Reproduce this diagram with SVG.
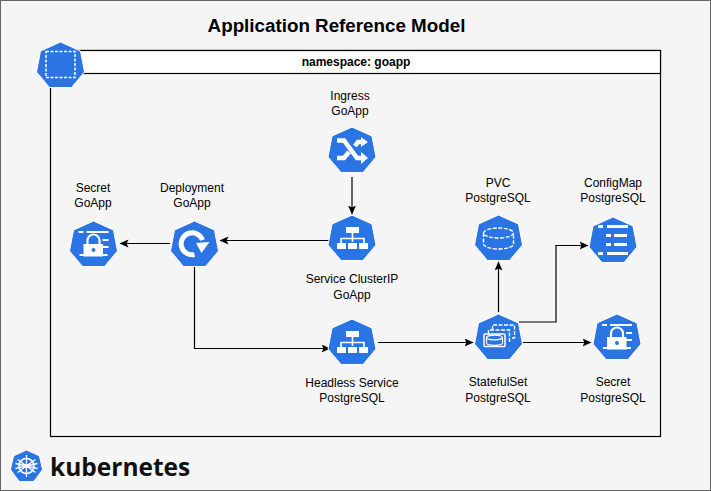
<svg xmlns="http://www.w3.org/2000/svg" width="711" height="491" viewBox="0 0 711 491">
<style>
.t{font-family:"Liberation Sans",Arial,sans-serif;font-size:12px;fill:#000;text-anchor:middle}
.c{fill:none;stroke:#000;stroke-width:1.2}
.hep{fill:#2b74e3;stroke:#fff;stroke-width:1}
.w{fill:#fff;stroke:none}
.wl{fill:none;stroke:#fff;stroke-width:1.6}
.wd{fill:none;stroke:#fff;stroke-width:1.4;stroke-dasharray:4 1.5}
</style>
<defs>
<marker id="a" markerWidth="10" markerHeight="10" refX="8.5" refY="4" orient="auto" markerUnits="userSpaceOnUse"><path d="M0,0L9,4L0,8L2,4Z" fill="#000"/></marker>
<path id="h" class="hep" d="M0,-23L20,-14L24,7L11,22.500L-11,22.500L-24,7L-20,-14Z"/>
<g id="svc"><use href="#h"/><rect class="w" x="-6" y="-11" width="13" height="6"/><path class="wl" d="M0.500,-5V4M-11,6V0.500H12V6"/><rect class="w" x="-15" y="5" width="9" height="6"/><rect class="w" x="-4" y="5" width="9" height="6"/><rect class="w" x="7" y="5" width="9" height="6"/></g>
<g id="sec"><use href="#h"/>
<path class="w" d="M-15,-13h5v2h-5zM-7,-13h22v2h-22zM9,-5h6v2h-6zM9,2h6v2h-6zM8,10h6v2h-6zM-14,10h5v2h-5z"/><rect class="w" x="-10" y="0" width="19.500" height="12.500"/><path fill="none" stroke="#fff" stroke-width="2.200" d="M-6,0V-3.500A6,6 0 0 1 6,-3.500V0"/><circle cx="0" cy="6" r="2" fill="#2b74e3"/></g>
</defs>
<rect x="0.500" y="0.500" width="710" height="490" fill="#f5f5f5" stroke="#666"/>
<text x="336.500" y="32" style="font-family:'Liberation Sans',Arial,sans-serif;font-size:18.800px;font-weight:700;text-anchor:middle">Application Reference Model</text>

<g id="namespace">
<rect x="50.500" y="50.500" width="610" height="386" fill="none" stroke="#000" stroke-width="1.200"/>
<rect x="50.500" y="50.500" width="610" height="23" fill="#fff" stroke="#000" stroke-width="1.200"/>
<text class="t" x="356" y="66" style="font-weight:700">namespace: goapp</text>
<g transform="translate(60.500,65)"><use href="#h"/><rect x="-14.500" y="-13.500" width="29" height="26" fill="none" stroke="#fff" stroke-width="1.500" stroke-dasharray="3 1.500"/></g>
</g>

<g id="connectors">
<path class="c" marker-end="url(#a)" d="M352,177V214"/>
<path class="c" marker-end="url(#a)" d="M330,240.500H220"/>
<path class="c" marker-end="url(#a)" d="M170,243.500H120"/>
<path class="c" marker-end="url(#a)" d="M194.500,267V348.500H330"/>
<path class="c" marker-end="url(#a)" d="M378,342.500H473"/>
<path class="c" marker-end="url(#a)" d="M498.500,312V262"/>
<path class="c" marker-end="url(#a)" d="M519,322H556V245.500H588"/>
<path class="c" marker-end="url(#a)" d="M523,342.500H591"/>
</g>

<g id="ingress"><g transform="translate(352,150)"><use href="#h"/>
<path fill="none" stroke="#fff" stroke-width="4.500" d="M-15,-9.500H-8L5,8H10M-15,8H-8L-3,2M3,-4L6,-8H10"/><path class="w" d="M9,2L16,8L9,14ZM9,-13L16,-8L9,-3Z"/></g>
<text class="t" x="350" y="100">Ingress</text><text class="t" x="350" y="115">GoApp</text></g>

<g id="service-goapp"><use href="#svc" x="352" y="238"/>
<text class="t" x="352" y="283">Service ClusterIP</text><text class="t" x="352" y="299">GoApp</text></g>

<g id="deployment"><g transform="translate(194.500,244)"><use href="#h"/>
<path fill="none" stroke="#fff" stroke-width="5" d="M0,10.500A11,11 0 1 1 8,-4"/><path class="w" d="M1.500,-1L15,-2L7,9Z"/></g>
<text class="t" x="192" y="192">Deployment</text><text class="t" x="192" y="207">GoApp</text></g>

<g id="secret-goapp"><use href="#sec" x="93.500" y="244"/>
<text class="t" x="93" y="192">Secret</text><text class="t" x="93" y="207">GoApp</text></g>

<g id="headless"><use href="#svc" x="352" y="342"/>
<text class="t" x="352" y="387">Headless Service</text><text class="t" x="352" y="402">PostgreSQL</text></g>

<g id="statefulset"><g transform="translate(498.500,337)"><use href="#h"/>
<path class="wd" d="M-6,-7V-12H16V1H13"/><path class="wd" d="M-10,-3V-7H11V5"/>
<rect x="-14.500" y="-3" width="21" height="12.500" rx="1" fill="#2b74e3" stroke="#fff" stroke-width="1.500"/><ellipse cx="-4" cy="0.500" rx="8" ry="2.300" fill="none" stroke="#fff" stroke-width="1.200"/><path fill="none" stroke="#fff" stroke-width="1.200" d="M-12,0.500V6A8,2.300 0 0 0 4,6V0.500"/></g>
<text class="t" x="498" y="386">StatefulSet</text><text class="t" x="498" y="402">PostgreSQL</text></g>

<g id="pvc"><g transform="translate(498.500,238)"><use href="#h"/>
<ellipse class="wd" cx="0" cy="-5" rx="15" ry="5"/><path class="wd" d="M-15,-5V6A15,5 0 0 0 15,6V-5"/></g>
<text class="t" x="498" y="187">PVC</text><text class="t" x="498" y="202">PostgreSQL</text></g>

<g id="configmap"><g transform="translate(613,240)"><use href="#h"/>
<path class="w" d="M-15,-15h5v3h-5zM-6,-15h21v3h-21zM-7,-6h5v3h-5zM1,-6h13v3h-13zM-7,3h5v3h-5zM1,3h13v3h-13zM-15,12h5v3h-5zM-6,12h21v3h-21z"/></g>
<text class="t" x="613" y="187">ConfigMap</text><text class="t" x="613" y="202">PostgreSQL</text></g>

<g id="secret-pg"><use href="#sec" x="617" y="337"/>
<text class="t" x="613" y="386">Secret</text><text class="t" x="613" y="402">PostgreSQL</text></g>

<g id="kubernetes-logo"><g transform="translate(26.500,466)"><path fill="#2b74e3" stroke="#2b74e3" d="M0,-15L12,-9.500L15,3.500L7,14.500H-7L-15,3.500L-12,-9.500Z"/>
<circle cx="0" cy="0" r="7.500" fill="none" stroke="#fff" stroke-width="1.700"/><circle cx="0" cy="0" r="2" fill="#fff"/><path stroke="#fff" stroke-width="1.300" d="M0,-11V11M-9,-6.500L9,6.500M9,-6.500L-9,6.500M-11,2.500L11,-2.500M-11,-2.500L11,2.500"/></g>
<text x="50" y="476" style="font-family:'Open Sans','Noto Sans',sans-serif;font-size:24.500px;font-weight:700;fill:#111">kubernetes</text></g>
</svg>
